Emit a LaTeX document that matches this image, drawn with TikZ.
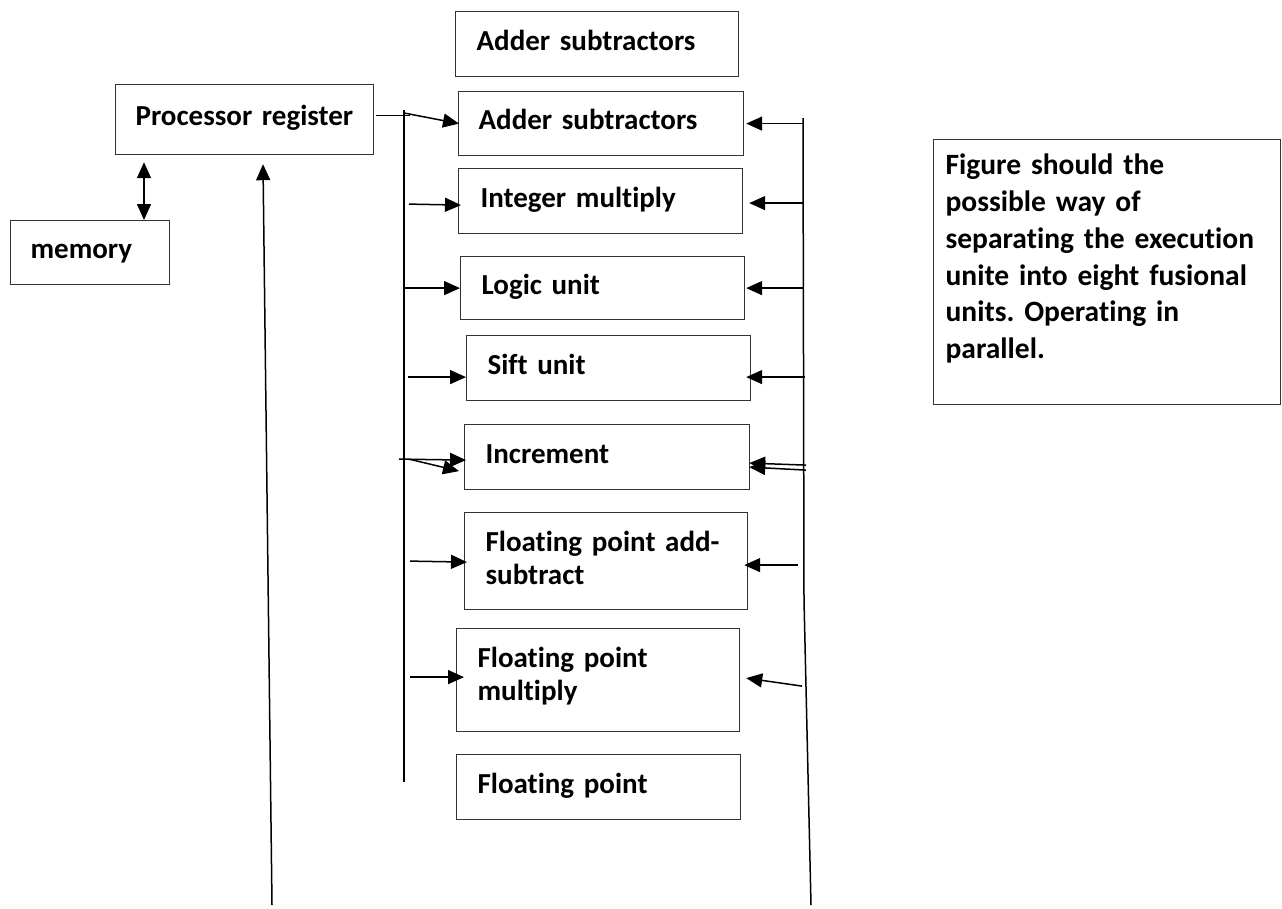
\documentclass[tikz,border=0pt]{standalone}
\usepackage{fontspec}
\setmainfont{Carlito}[Ligatures=NoCommon]
\frenchspacing
\usetikzlibrary{arrows.meta}
\begin{document}
\begin{tikzpicture}[x=1pt,y=-1pt,
  unitbox/.style={draw=black!80, line width=1.2pt, anchor=north west,
    inner ysep=0pt, inner xsep=21pt, align=left,
    font=\bfseries\fontsize{29}{33}\selectfont},
  oneline/.style={text height=19pt, text depth=7pt},
  wire/.style={line width=1.5pt, black},
  arr/.style={wire, -{Triangle[length=16pt,width=14pt]}},
  darr/.style={wire, {Triangle[length=16pt,width=14pt]}-{Triangle[length=16pt,width=14pt]}}]
\useasboundingbox (0,0) rectangle (1282,908);

% functional units
\node[unitbox,oneline,minimum width=283pt,minimum height=65pt,text width=241pt] (addtop) at (455,11) {\mbox{Adder subtractors}};
\node[unitbox,oneline,inner xsep=20pt,minimum width=258pt,minimum height=70pt,text width=218pt] (pr) at (115,84) {\mbox{Processor register}};
\node[unitbox,oneline,inner xsep=20pt,minimum width=159pt,minimum height=64pt,text width=119pt] (memory) at (10,220) {memory};
\node[unitbox,oneline,inner xsep=20pt,minimum width=285pt,minimum height=64pt,text width=245pt] (add) at (458,91) {\mbox{Adder subtractors}};
\node[unitbox,oneline,inner xsep=22pt,minimum width=284pt,minimum height=65pt,text width=240pt] (intmul) at (458,168) {\mbox{Integer multiply}};
\node[unitbox,oneline,minimum width=284pt,minimum height=63pt,text width=242pt] (logic) at (460,256) {Logic unit};
\node[unitbox,oneline,minimum width=284pt,minimum height=65pt,text width=242pt] (sift) at (466,335) {Sift unit};
\node[unitbox,oneline,minimum width=285pt,minimum height=65pt,text width=243pt] (incr) at (464,424) {Increment};
\node[unitbox,text height=22pt,text depth=41pt,minimum width=283pt,minimum height=97pt,text width=241pt] (fpadd) at (464,512) {\mbox{Floating point add-}\\subtract};
\node[unitbox,text height=22pt,text depth=47pt,minimum width=283pt,minimum height=103pt,text width=241pt] (fpmul) at (456,628) {Floating point\\multiply};
\node[unitbox,oneline,minimum width=284pt,minimum height=65pt,text width=242pt] (fp) at (456,754) {Floating point};

% caption box
\node[unitbox,inner xsep=12pt,font=\bfseries\fontsize{29.5}{36.8}\selectfont,
  text height=22pt,text depth=217pt,minimum width=347pt,minimum height=265pt,text width=323pt] (note) at (933,139)
  {Figure should the\\possible way of\\separating the execution\\unite into eight fusional\\units. Operating in\\parallel.};

% buses
\coordinate (lbt) at (404,110);
\coordinate (lbb) at (404,782);
\coordinate (rbt) at (803,118);
\coordinate (rbm) at (804,600);
\coordinate (rbb) at (811,905);
\coordinate (mx) at (144,0);
\coordinate (ux) at (263,0);
\coordinate (ub) at (272,905);
\draw[wire] (lbt) -- (lbb);
\draw[wire] (rbt) -- (rbm) -- (rbb);

% register links
\draw[darr] ([yshift=-7pt]pr.south -| mx) -- (memory.north -| mx);
\draw[arr] (ub) -- ([yshift=-9pt]pr.south -| ux);
\draw[wire] ([xshift=2pt,yshift=4pt]pr.east) -- ([yshift=4pt]pr.east -| lbt) -- ++(6,0);
\draw[arr] ([yshift=-3pt]lbt) -- ([xshift=1pt]add.west);

% inputs from the left bus
\draw[arr] ([xshift=5pt,yshift=-3pt]lbt |- intmul.west) -- ([xshift=3pt,yshift=-4pt]intmul.west);
\draw[arr] (lbt |- logic.west) -- (logic.west);
\draw[arr] ([xshift=4pt,yshift=-9pt]lbt |- sift.west) -- ([yshift=-9pt]sift.west);
\draw[arr] ([xshift=-5pt,yshift=-2pt]lbt |- incr.west) -- ([xshift=2pt,yshift=-3pt]incr.west);
\draw[arr] ([xshift=5pt,yshift=-2pt]lbt |- incr.west) -- ([xshift=-5pt,yshift=-14pt]incr.west);
\draw[arr] ([xshift=6pt]lbt |- fpadd.west) -- ([xshift=3pt,yshift=-1pt]fpadd.west);
\draw[arr] ([xshift=6pt,yshift=3pt]lbt |- fpmul.west) -- ([xshift=8pt,yshift=3pt]fpmul.west);

% inputs from the right bus
\draw[arr] (rbt |- add.east) -- ([xshift=2pt]add.east);
\draw[arr] ([yshift=-2pt]rbt |- intmul.east) -- ([xshift=6pt,yshift=-2pt]intmul.east);
\draw[arr] (rbt |- logic.east) -- ([xshift=1pt]logic.east);
\draw[arr] ([xshift=2pt,yshift=-9pt]rbt |- sift.east) -- ([xshift=-5pt,yshift=-9pt]sift.east);
\draw[arr] ([xshift=3pt,yshift=-8pt]rbt |- incr.east) -- ([xshift=-1pt,yshift=-6pt]incr.east);
\draw[arr] ([xshift=3pt,yshift=-13pt]rbt |- incr.east) -- ([xshift=-1pt,yshift=-10pt]incr.east);
\draw[arr] ([xshift=-5pt,yshift=-4pt]rbt |- fpadd.east) -- ([xshift=-4pt,yshift=-4pt]fpadd.east);
\draw[arr] ([xshift=-1pt,yshift=-6pt]rbt |- fpmul.east) -- ([xshift=6pt,yshift=2pt]fpmul.east);
\end{tikzpicture}
\end{document}
